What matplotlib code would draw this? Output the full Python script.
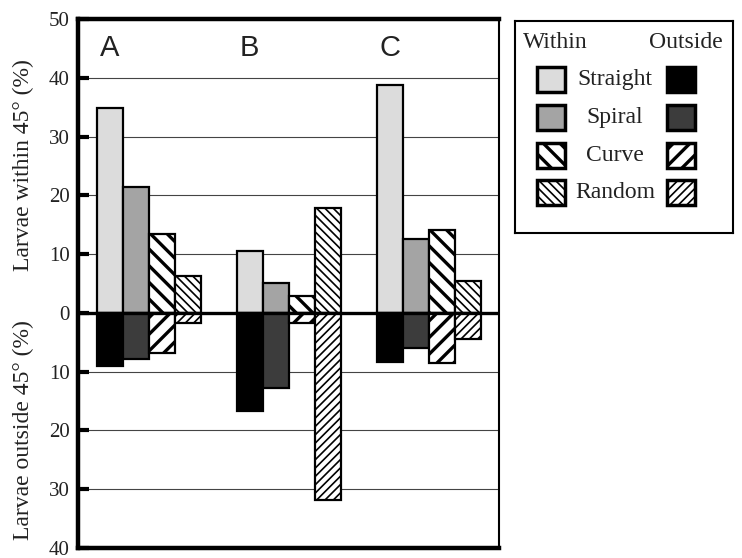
import matplotlib.pyplot as plt
from matplotlib.patches import Rectangle
import numpy as np

# groups of larvae and the four path types
groups = ["A", "B", "C"]
path_types = ["Straight", "Spiral", "Curve", "Random"]

# percent of larvae within 45 degrees (drawn upwards)
within_straight = [34.8, 10.6, 38.8]
within_spiral = [21.5, 5.1, 12.6]
within_curve = [13.5, 2.9, 14.1]
within_random = [6.3, 17.9, 5.5]

# percent of larvae outside 45 degrees (drawn downwards)
outside_straight = [9.0, 16.7, 8.3]
outside_spiral = [7.9, 12.8, 6.0]
outside_curve = [6.8, 1.7, 8.5]
outside_random = [1.7, 31.9, 4.5]

ytick_values = [-40, -30, -20, -10, 0, 10, 20, 30, 40, 50]
ytick_labels = [str(abs(v)) for v in ytick_values]

within = [within_straight, within_spiral, within_curve, within_random]
outside = [outside_straight, outside_spiral, outside_curve, outside_random]

# look of each path type: (facecolor, hatch, hatch linewidth)
within_style = [("#dcdcdc", None, 1.0),
                ("#a4a4a4", None, 1.0),
                ("white", "\\\\", 2.4),
                ("white", "\\\\\\\\", 1.2)]
outside_style = [("black", None, 1.0),
                 ("#3c3c3c", None, 1.0),
                 ("white", "//", 2.4),
                 ("white", "////", 1.2)]

serif = ["Liberation Serif", "DejaVu Serif"]
sans = ["Liberation Sans", "DejaVu Sans"]

fig = plt.figure(figsize=(7.42, 5.58), dpi=100)
ax = fig.add_axes([0.1051, 0.0179, 0.5674, 0.948])

x = np.arange(len(groups))
w = 0.186
offsets = np.array([-1.5, -0.5, 0.5, 1.5]) * w

# grid lines first so the bars sit on top
for v in ytick_values:
    if v not in (0, 50, -40):
        ax.axhline(v, color="#444444", lw=0.8, zorder=0)

for i in range(4):
    fc, hatch, hlw = within_style[i]
    plt.rcParams["hatch.linewidth"] = hlw
    ax.bar(x + offsets[i], within[i], width=w, color=fc, edgecolor="black",
           lw=1.6, hatch=hatch, zorder=2)
    fc, hatch, hlw = outside_style[i]
    plt.rcParams["hatch.linewidth"] = hlw
    ax.bar(x + offsets[i], [-v for v in outside[i]], width=w, color=fc,
           edgecolor="black", lw=1.6, hatch=hatch, zorder=2)

ax.axhline(0, color="black", lw=2.4, zorder=3)

# group letters at the top
for i, g in enumerate(groups):
    ax.text(x[i] - 0.28, 45.1, g, ha="center", va="center", fontsize=21,
            family=sans, color="#222222")

ax.set_xlim(-0.507, 2.5)
ax.set_ylim(-40, 50)
ax.set_xticks([])
ax.set_yticks(ytick_values)
ax.set_yticklabels(ytick_labels, family=serif, fontsize=15, color="#222222")
ax.tick_params(axis="y", direction="in", length=8, width=3, pad=6)

for side in ["left", "top", "bottom"]:
    ax.spines[side].set_linewidth(3.2)
ax.spines["right"].set_linewidth(1.5)

fig.text(0.031, 1 - 165 / 558, "Larvae within 45° (%)", rotation=90,
         ha="center", va="center", family=serif, fontsize=17, color="#222222")
fig.text(0.031, 1 - 430 / 558, "Larvae outside 45° (%)", rotation=90,
         ha="center", va="center", family=serif, fontsize=17, color="#222222")

# legend box drawn by hand, in pixel-like units
lg = fig.add_axes([0.694, 0.5824, 0.2938, 0.3799])
lg.set_xlim(0, 218)
lg.set_ylim(212, 0)
lg.set_xticks([])
lg.set_yticks([])
for s in lg.spines.values():
    s.set_linewidth(1.5)

lg.text(8, 21, "Within", ha="left", va="center", family=serif, fontsize=17,
        color="#222222")
lg.text(208, 21, "Outside", ha="right", va="center", family=serif,
        fontsize=17, color="#222222")

row_y = [58, 96, 134, 171]
for i, name in enumerate(path_types):
    fc, hatch, hlw = within_style[i]
    plt.rcParams["hatch.linewidth"] = hlw
    lg.add_patch(Rectangle((22, row_y[i] - 12.5), 28, 25, facecolor=fc,
                           edgecolor="black", lw=2.5, hatch=hatch))
    fc, hatch, hlw = outside_style[i]
    plt.rcParams["hatch.linewidth"] = hlw
    lg.add_patch(Rectangle((152, row_y[i] - 12.5), 28, 25, facecolor=fc,
                           edgecolor="black", lw=2.5, hatch=hatch))
    lg.text(100, row_y[i], name, ha="center", va="center", family=serif,
            fontsize=17, color="#222222")

fig.savefig("out.png", dpi=100)
